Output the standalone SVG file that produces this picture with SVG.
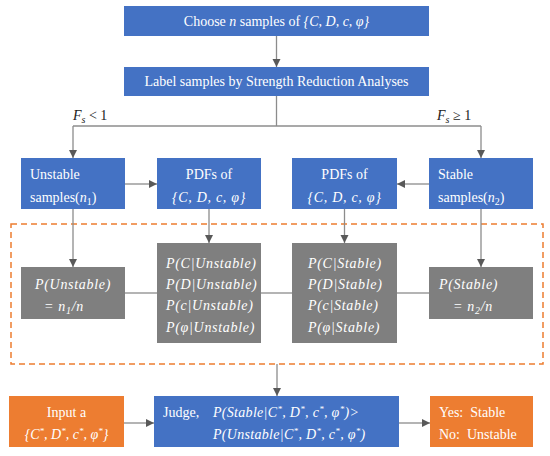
<svg xmlns="http://www.w3.org/2000/svg" width="550" height="456" viewBox="0 0 550 456">
<style>
.blue{fill:#4472C4}
.orange{fill:#ED7D31}
.gray{fill:#7F7F7F}
text{font-family:"Liberation Serif","DejaVu Serif",serif;font-size:14px;fill:#ffffff}
.lbl{fill:#222222}
.m{font-style:italic}
.w{letter-spacing:0.7px}
.j{letter-spacing:0.3px}
.c{text-anchor:middle}
.ln{stroke:#8c8c8c;stroke-width:1.3;fill:none}
.ar{stroke:#8c8c8c;stroke-width:1.3;fill:none;marker-end:url(#ah)}
.dash{fill:none;stroke:#ED7D31;stroke-width:1.5;stroke-dasharray:6 4}
</style>
<defs>
<marker id="ah" markerUnits="userSpaceOnUse" markerWidth="9" markerHeight="9" refX="8" refY="4" orient="auto">
<path d="M0,0 L8,4 L0,8 z" fill="#595959"/>
</marker>
</defs>
<rect x="0" y="0" width="550" height="456" fill="#ffffff"/>

<g id="connectors">
<rect class="dash" x="11" y="224" width="532" height="140"/>
<line class="ar" x1="276.5" y1="36" x2="276.5" y2="67"/>
<line class="ln" x1="276.5" y1="96" x2="276.5" y2="126"/>
<line class="ln" x1="73" y1="126" x2="481" y2="126"/>
<line class="ar" x1="73" y1="126" x2="73" y2="158"/>
<line class="ar" x1="481" y1="126" x2="481" y2="158"/>
<line class="ar" x1="125" y1="184" x2="157" y2="184"/>
<line class="ar" x1="429" y1="184" x2="397" y2="184"/>
<line class="ar" x1="209" y1="209" x2="209" y2="243"/>
<line class="ar" x1="344.5" y1="209" x2="344.5" y2="243"/>
<line class="ar" x1="73" y1="209" x2="73" y2="267"/>
<line class="ar" x1="481" y1="209" x2="481" y2="267"/>
<line class="ln" x1="125" y1="293" x2="157" y2="293"/>
<line class="ln" x1="261" y1="293" x2="292" y2="293"/>
<line class="ln" x1="397" y1="293" x2="429" y2="293"/>
<line class="ar" x1="277" y1="364" x2="277" y2="396"/>
<line class="ar" x1="124" y1="423" x2="154" y2="423"/>
<line class="ar" x1="399" y1="423" x2="430" y2="423"/>
<text class="lbl m" x="73" y="120">F<tspan font-size="10" dy="3">s</tspan><tspan dy="-3" font-style="normal"> &lt; 1</tspan></text>
<text class="lbl m" x="437" y="120">F<tspan font-size="10" dy="3">s</tspan><tspan dy="-3" font-style="normal"> ≥ 1</tspan></text>
</g>

<g id="choose">
<rect class="blue" x="124" y="6" width="305" height="30"/>
<text class="c" x="276.5" y="26">Choose <tspan class="m">n</tspan> samples of  <tspan class="m">{C, D, c, φ}</tspan></text>
</g>

<g id="label">
<rect class="blue" x="124" y="67" width="305" height="29"/>
<text class="c" x="276.5" y="86">Label samples by Strength Reduction Analyses</text>
</g>

<g id="unstable">
<rect class="blue" x="21" y="158" width="104" height="51"/>
<text x="30" y="179">Unstable</text>
<text x="30" y="202">samples(<tspan class="m">n</tspan><tspan font-size="10" dy="3">1</tspan><tspan dy="-3">)</tspan></text>
</g>

<g id="pdf-unstable">
<rect class="blue" x="157" y="158" width="104" height="51"/>
<text class="c" x="209" y="179">PDFs of</text>
<text class="c m w" x="209" y="202">{C, D, c, φ}</text>
</g>

<g id="pdf-stable">
<rect class="blue" x="292" y="158" width="105" height="51"/>
<text class="c" x="344.5" y="179">PDFs of</text>
<text class="c m w" x="344.5" y="202">{C, D, c, φ}</text>
</g>

<g id="stable">
<rect class="blue" x="429" y="158" width="104" height="51"/>
<text x="438" y="179">Stable</text>
<text x="438" y="202">samples(<tspan class="m">n</tspan><tspan font-size="10" dy="3">2</tspan><tspan dy="-3">)</tspan></text>
</g>

<g id="p-unstable">
<rect class="gray" x="21" y="267" width="104" height="52"/>
<text class="m w" x="35" y="289">P(Unstable)</text>
<text class="m w" x="44" y="311">= n<tspan font-size="10" dy="3">1</tspan><tspan dy="-3">/n</tspan></text>
</g>

<g id="cond-unstable">
<rect class="gray" x="157" y="243" width="104" height="100"/>
<text class="m w" x="166" y="268">P(C|Unstable)</text>
<text class="m w" x="166" y="289">P(D|Unstable)</text>
<text class="m w" x="166" y="310">P(c|Unstable)</text>
<text class="m w" x="166" y="332">P(φ|Unstable)</text>
</g>

<g id="cond-stable">
<rect class="gray" x="292" y="243" width="105" height="100"/>
<text class="m w" x="308" y="268">P(C|Stable)</text>
<text class="m w" x="308" y="289">P(D|Stable)</text>
<text class="m w" x="308" y="310">P(c|Stable)</text>
<text class="m w" x="308" y="332">P(φ|Stable)</text>
</g>

<g id="p-stable">
<rect class="gray" x="429" y="267" width="104" height="52"/>
<text class="m w" x="439" y="289">P(Stable)</text>
<text class="m w" x="453" y="311">= n<tspan font-size="10" dy="3">2</tspan><tspan dy="-3">/n</tspan></text>
</g>

<g id="input">
<rect class="orange" x="9" y="396" width="115" height="51"/>
<text class="c" x="66.5" y="417">Input a</text>
<text class="c m" x="66.5" y="439">{C<tspan font-size="9" dy="-5">*</tspan><tspan dy="5">, D</tspan><tspan font-size="9" dy="-5">*</tspan><tspan dy="5">, c</tspan><tspan font-size="9" dy="-5">*</tspan><tspan dy="5">, φ</tspan><tspan font-size="9" dy="-5">*</tspan><tspan dy="5">}</tspan></text>
</g>

<g id="judge">
<rect class="blue" x="154" y="396" width="245" height="51"/>
<text x="163" y="417">Judge,</text>
<text class="m j" x="213" y="417">P(Stable|C<tspan font-size="9" dy="-5">*</tspan><tspan dy="5">, D</tspan><tspan font-size="9" dy="-5">*</tspan><tspan dy="5">, c</tspan><tspan font-size="9" dy="-5">*</tspan><tspan dy="5">, φ</tspan><tspan font-size="9" dy="-5">*</tspan><tspan dy="5">)&gt;</tspan></text>
<text class="m j" x="213" y="439">P(Unstable|C<tspan font-size="9" dy="-5">*</tspan><tspan dy="5">, D</tspan><tspan font-size="9" dy="-5">*</tspan><tspan dy="5">, c</tspan><tspan font-size="9" dy="-5">*</tspan><tspan dy="5">, φ</tspan><tspan font-size="9" dy="-5">*</tspan><tspan dy="5">)</tspan></text>
</g>

<g id="result">
<rect class="orange" x="430" y="396" width="103" height="51"/>
<text x="439" y="417" xml:space="preserve">Yes:  Stable</text>
<text x="439" y="439" xml:space="preserve">No:  Unstable</text>
</g>
</svg>
